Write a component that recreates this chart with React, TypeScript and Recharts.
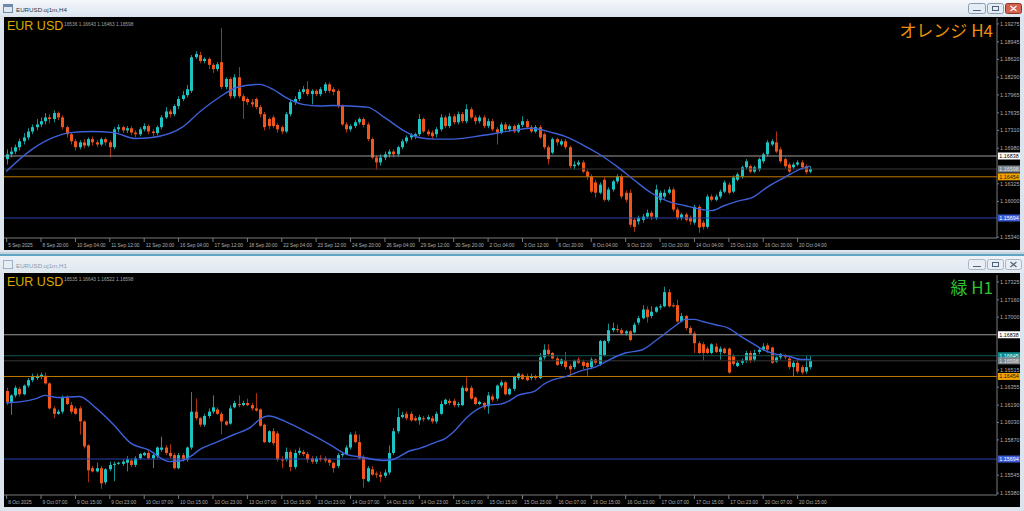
import React from "react";
import { ComposedChart, Bar, Line, XAxis, YAxis, ReferenceLine } from "recharts";

type Candle = [number, number, number, number]; // open, high, low, close

// EURUSD H4 — 5 Sep .. 20 Oct 2025
const h4Candles: Candle[] = [
  [1.1678, 1.1696, 1.1668, 1.1687], [1.1687, 1.17, 1.1681, 1.1692], [1.1692, 1.1705, 1.1687, 1.17], [1.17, 1.1716, 1.1694, 1.1711],
  [1.1711, 1.1726, 1.1705, 1.1718], [1.1718, 1.1735, 1.1713, 1.1729], [1.1729, 1.1742, 1.1724, 1.1737], [1.1737, 1.1752, 1.1731, 1.1742],
  [1.1742, 1.1755, 1.1737, 1.1748], [1.1748, 1.1763, 1.1742, 1.1755], [1.1755, 1.1761, 1.1744, 1.1752], [1.1752, 1.1768, 1.1746, 1.1763],
  [1.1763, 1.1766, 1.175, 1.1755], [1.1755, 1.1759, 1.1733, 1.1737], [1.1737, 1.174, 1.1718, 1.1724], [1.1724, 1.1728, 1.1705, 1.1711],
  [1.1711, 1.1715, 1.1694, 1.17], [1.17, 1.1713, 1.1696, 1.1709], [1.1709, 1.1715, 1.1698, 1.1703], [1.1703, 1.1718, 1.17, 1.1715],
  [1.1715, 1.172, 1.1703, 1.1709], [1.1709, 1.1713, 1.17, 1.1705], [1.1705, 1.1718, 1.1702, 1.1715], [1.1715, 1.1718, 1.1703, 1.1709],
  [1.1709, 1.1713, 1.1681, 1.17], [1.17, 1.1737, 1.1696, 1.1733], [1.1733, 1.1742, 1.1727, 1.1737], [1.1737, 1.174, 1.1726, 1.1731],
  [1.1731, 1.1739, 1.1726, 1.1735], [1.1735, 1.1739, 1.1722, 1.1727], [1.1727, 1.1731, 1.1718, 1.1724], [1.1724, 1.1737, 1.172, 1.1733],
  [1.1733, 1.1744, 1.1729, 1.1739], [1.1739, 1.1742, 1.1724, 1.1729], [1.1729, 1.1733, 1.1718, 1.1726], [1.1726, 1.174, 1.1722, 1.1737],
  [1.1737, 1.1759, 1.1733, 1.1755], [1.1755, 1.1774, 1.1752, 1.1766], [1.1766, 1.177, 1.1755, 1.1761], [1.1761, 1.1779, 1.1757, 1.1776],
  [1.1776, 1.1794, 1.177, 1.1789], [1.1789, 1.1804, 1.1785, 1.1796], [1.1796, 1.1815, 1.1792, 1.1807], [1.1804, 1.187, 1.18, 1.1866],
  [1.1866, 1.1877, 1.1863, 1.1872], [1.187, 1.1876, 1.1855, 1.1859], [1.1859, 1.1866, 1.1855, 1.1863], [1.1863, 1.1866, 1.1844, 1.1852],
  [1.1852, 1.1855, 1.1837, 1.1844], [1.1844, 1.1857, 1.184, 1.1853], [1.1857, 1.192, 1.1807, 1.1811], [1.1811, 1.1829, 1.1807, 1.1826],
  [1.1826, 1.1829, 1.1789, 1.1794], [1.1794, 1.1835, 1.179, 1.1829], [1.1829, 1.1848, 1.179, 1.1794], [1.1794, 1.1798, 1.1752, 1.1785],
  [1.1789, 1.1792, 1.1778, 1.1783], [1.1783, 1.1789, 1.1774, 1.1779], [1.1789, 1.1792, 1.177, 1.1774], [1.1774, 1.1778, 1.1755, 1.1761],
  [1.1761, 1.1765, 1.1731, 1.1737], [1.1752, 1.1755, 1.1733, 1.1739], [1.1755, 1.1759, 1.1735, 1.1739], [1.1741, 1.1744, 1.1727, 1.1733],
  [1.1737, 1.174, 1.1724, 1.1729], [1.1729, 1.1765, 1.1726, 1.1761], [1.1761, 1.1789, 1.1757, 1.1783], [1.1783, 1.1794, 1.1778, 1.1789],
  [1.1789, 1.1807, 1.1785, 1.1802], [1.1802, 1.1813, 1.1798, 1.1807], [1.1807, 1.1822, 1.1794, 1.1798], [1.1798, 1.1807, 1.1779, 1.1804],
  [1.1804, 1.1807, 1.1794, 1.1798], [1.1798, 1.1811, 1.1794, 1.1807], [1.1804, 1.182, 1.18, 1.1816], [1.1816, 1.182, 1.18, 1.1804],
  [1.1807, 1.1811, 1.1796, 1.1802], [1.1804, 1.1807, 1.1772, 1.1776], [1.1776, 1.1779, 1.1739, 1.1742], [1.1742, 1.1746, 1.1727, 1.1733],
  [1.1733, 1.1742, 1.1729, 1.1739], [1.1739, 1.175, 1.1735, 1.1746], [1.1746, 1.1755, 1.1742, 1.1752], [1.1752, 1.1755, 1.1737, 1.1741],
  [1.1742, 1.1746, 1.1711, 1.1715], [1.1715, 1.1718, 1.1678, 1.1681], [1.1681, 1.1685, 1.1659, 1.1672], [1.1672, 1.1687, 1.1666, 1.1681],
  [1.1681, 1.1692, 1.1676, 1.1687], [1.1687, 1.1696, 1.1681, 1.1692], [1.1692, 1.1696, 1.1681, 1.1687], [1.1687, 1.1703, 1.1683, 1.17],
  [1.17, 1.1715, 1.1696, 1.1711], [1.1711, 1.1722, 1.1707, 1.1718], [1.1718, 1.1726, 1.1713, 1.1722], [1.172, 1.1727, 1.1715, 1.1724],
  [1.1724, 1.1761, 1.172, 1.1752], [1.1752, 1.1755, 1.1726, 1.1729], [1.1729, 1.1733, 1.172, 1.1724], [1.1727, 1.1731, 1.1715, 1.172],
  [1.1724, 1.1737, 1.1718, 1.1733], [1.1733, 1.1761, 1.1729, 1.1755], [1.1755, 1.1759, 1.1735, 1.1739], [1.1739, 1.1763, 1.1735, 1.1757],
  [1.1757, 1.1761, 1.1742, 1.1746], [1.1746, 1.1766, 1.1742, 1.1761], [1.1761, 1.1765, 1.1744, 1.1748], [1.1748, 1.1779, 1.1744, 1.177],
  [1.177, 1.1774, 1.1752, 1.1755], [1.1755, 1.1759, 1.1742, 1.1748], [1.1748, 1.1759, 1.1744, 1.1755], [1.1755, 1.1759, 1.1735, 1.1739],
  [1.1739, 1.1753, 1.1735, 1.1748], [1.1748, 1.1752, 1.1729, 1.1733], [1.1733, 1.1737, 1.1705, 1.1727], [1.1727, 1.1746, 1.1724, 1.1742],
  [1.1742, 1.1746, 1.1729, 1.1733], [1.1733, 1.1742, 1.1729, 1.1739], [1.1739, 1.1742, 1.1726, 1.1729], [1.1729, 1.1744, 1.1726, 1.1741],
  [1.1741, 1.1757, 1.1737, 1.1748], [1.1748, 1.1752, 1.1733, 1.1737], [1.1737, 1.1741, 1.1726, 1.1729], [1.1729, 1.1741, 1.1726, 1.1737],
  [1.1737, 1.1741, 1.1715, 1.1718], [1.1724, 1.1727, 1.1696, 1.17], [1.17, 1.1703, 1.1668, 1.1678], [1.169, 1.1718, 1.1687, 1.1715],
  [1.1715, 1.1718, 1.1703, 1.1709], [1.1705, 1.1715, 1.1702, 1.1711], [1.1711, 1.1715, 1.1696, 1.17], [1.17, 1.1703, 1.1661, 1.1665],
  [1.1665, 1.1674, 1.1659, 1.1668], [1.1668, 1.1676, 1.1665, 1.1672], [1.1672, 1.1676, 1.1652, 1.1655], [1.1655, 1.1659, 1.164, 1.1646],
  [1.1646, 1.165, 1.1615, 1.1618], [1.1635, 1.164, 1.1607, 1.1616], [1.1616, 1.1635, 1.1613, 1.1631], [1.164, 1.1644, 1.16, 1.1603],
  [1.1603, 1.1626, 1.16, 1.1622], [1.1622, 1.164, 1.1618, 1.1637], [1.1637, 1.165, 1.1633, 1.1646], [1.1646, 1.165, 1.1605, 1.1609],
  [1.1616, 1.162, 1.1598, 1.1603], [1.1616, 1.1622, 1.1552, 1.1557], [1.1566, 1.157, 1.1544, 1.1553], [1.1563, 1.1574, 1.1557, 1.157],
  [1.1566, 1.1577, 1.1561, 1.1572], [1.1572, 1.1585, 1.1568, 1.1579], [1.1579, 1.1583, 1.1566, 1.1572], [1.157, 1.1631, 1.1566, 1.1622],
  [1.1603, 1.162, 1.1598, 1.1616], [1.1609, 1.1622, 1.1605, 1.1616], [1.1616, 1.1627, 1.1613, 1.1622], [1.1622, 1.1626, 1.1581, 1.1585],
  [1.1585, 1.1589, 1.1566, 1.157], [1.157, 1.1579, 1.1565, 1.1576], [1.1576, 1.1579, 1.1563, 1.1566], [1.157, 1.1574, 1.1557, 1.1563],
  [1.1561, 1.1594, 1.1557, 1.159], [1.159, 1.1594, 1.1542, 1.1552], [1.1561, 1.1565, 1.1548, 1.1553], [1.1553, 1.1613, 1.155, 1.1609],
  [1.1609, 1.1613, 1.16, 1.1603], [1.1603, 1.1613, 1.16, 1.1609], [1.1609, 1.1622, 1.1605, 1.1618], [1.1618, 1.1639, 1.1615, 1.1635],
  [1.1631, 1.1635, 1.1613, 1.1616], [1.1618, 1.1648, 1.1615, 1.1644], [1.164, 1.1653, 1.1637, 1.165], [1.1646, 1.1666, 1.1642, 1.1663],
  [1.1663, 1.1678, 1.1659, 1.1674], [1.1665, 1.1668, 1.1652, 1.1655], [1.1655, 1.1666, 1.1652, 1.1663], [1.1659, 1.1681, 1.1655, 1.1678],
  [1.1674, 1.169, 1.167, 1.1687], [1.1687, 1.1713, 1.1683, 1.1709], [1.1705, 1.1715, 1.1702, 1.1711], [1.1709, 1.1729, 1.1689, 1.1692],
  [1.1696, 1.17, 1.167, 1.1674], [1.1678, 1.1681, 1.1661, 1.1665], [1.1668, 1.1672, 1.1652, 1.1655], [1.1663, 1.1672, 1.1659, 1.1668],
  [1.1668, 1.1676, 1.1665, 1.1672], [1.1672, 1.1676, 1.1659, 1.1663], [1.1665, 1.1668, 1.165, 1.1654], [1.1655, 1.1665, 1.1652, 1.166],
];

// blue moving average, read at selected candles: [candle index, value]
const h4Ma: [number, number][] = [
  [0, 1.1655], [6, 1.1696], [11, 1.1718], [15, 1.1727], [20, 1.1729], [25, 1.1727], [30, 1.1716], [34, 1.1718],
  [41, 1.1737], [45, 1.1765], [49, 1.1789], [54, 1.1811], [59, 1.1816], [62, 1.1807], [65, 1.1792], [69, 1.1779],
  [73, 1.1776], [76, 1.1777], [80, 1.1776], [84, 1.1774], [88, 1.1755], [92, 1.1733], [96, 1.1718], [100, 1.1715],
  [104, 1.1715], [111, 1.1722], [118, 1.1731], [122, 1.1735], [127, 1.1727], [130, 1.172], [134, 1.1705], [138, 1.1687],
  [142, 1.1665], [146, 1.164], [150, 1.1616], [154, 1.16], [158, 1.1592], [162, 1.1585], [164, 1.1583], [167, 1.1592],
  [170, 1.16], [174, 1.1609], [177, 1.1626], [181, 1.1644], [184, 1.1657], [187, 1.1665],
];

const h4TimeLabels = [
  "5 Sep 2025", "8 Sep 20:00", "10 Sep 04:00", "11 Sep 12:00", "12 Sep 20:00", "16 Sep 04:00", "17 Sep 12:00", "18 Sep 20:00",
  "22 Sep 04:00", "23 Sep 12:00", "24 Sep 20:00", "26 Sep 04:00", "29 Sep 12:00", "30 Sep 20:00", "2 Oct 04:00", "3 Oct 12:00",
  "6 Oct 20:00", "8 Oct 04:00", "9 Oct 12:00", "10 Oct 20:00", "14 Oct 04:00", "15 Oct 12:00", "16 Oct 20:00", "20 Oct 04:00",
];

const h4PriceTicks = [1.19275, 1.18945, 1.1862, 1.1829, 1.17965, 1.17635, 1.1731, 1.1698, 1.16325, 1.16, 1.1534];

const h4Levels = [
  { price: 1.16838, kind: "high" },
  { price: 1.16598, kind: "bid" },
  { price: 1.16454, kind: "mid" },
  { price: 1.15694, kind: "low" },
];

// EURUSD H1 — 8 Oct .. 20 Oct 2025
const h1Candles: Candle[] = [
  [1.1632, 1.1635, 1.1619, 1.1622], [1.1622, 1.1629, 1.161, 1.1628], [1.1628, 1.1637, 1.1626, 1.1635], [1.1634, 1.1636, 1.1627, 1.1629],
  [1.1629, 1.1638, 1.1628, 1.1637], [1.1637, 1.1644, 1.1635, 1.1642], [1.1642, 1.1648, 1.164, 1.1645], [1.1644, 1.1648, 1.1642, 1.1646],
  [1.1645, 1.1649, 1.1643, 1.1647], [1.1646, 1.1649, 1.1638, 1.1639], [1.1639, 1.164, 1.1615, 1.1616], [1.1616, 1.1618, 1.1607, 1.1611],
  [1.1611, 1.1615, 1.161, 1.1613], [1.1613, 1.1628, 1.1611, 1.1626], [1.1626, 1.1628, 1.1619, 1.162], [1.1619, 1.1622, 1.1611, 1.1613],
  [1.1616, 1.1618, 1.161, 1.1611], [1.1616, 1.1618, 1.1592, 1.1604], [1.1604, 1.1605, 1.1579, 1.1581], [1.1582, 1.1583, 1.1548, 1.1559],
  [1.1561, 1.1563, 1.1557, 1.1558], [1.1558, 1.1566, 1.1557, 1.1561], [1.1561, 1.1563, 1.1542, 1.1547], [1.1548, 1.1561, 1.1546, 1.156],
  [1.156, 1.1567, 1.1558, 1.1564], [1.1564, 1.1567, 1.1549, 1.1565], [1.1565, 1.1567, 1.1564, 1.1566], [1.1565, 1.1569, 1.1563, 1.1567],
  [1.1566, 1.1572, 1.1558, 1.1569], [1.1568, 1.157, 1.1562, 1.1564], [1.1564, 1.1572, 1.1562, 1.157], [1.157, 1.1575, 1.1569, 1.1574],
  [1.1573, 1.1576, 1.1572, 1.1575], [1.1575, 1.1578, 1.1569, 1.157], [1.157, 1.1576, 1.1561, 1.1573], [1.1572, 1.1581, 1.157, 1.158],
  [1.1578, 1.159, 1.1576, 1.158], [1.158, 1.1582, 1.1573, 1.1575], [1.1575, 1.1583, 1.157, 1.1572], [1.1573, 1.1575, 1.156, 1.1561],
  [1.1561, 1.1575, 1.156, 1.1573], [1.1573, 1.1575, 1.1567, 1.1569], [1.1569, 1.1581, 1.1567, 1.158], [1.158, 1.1631, 1.1578, 1.1613],
  [1.1613, 1.1625, 1.1605, 1.1607], [1.1607, 1.1608, 1.1599, 1.1601], [1.1601, 1.1611, 1.1599, 1.1609], [1.1609, 1.1616, 1.1607, 1.1613],
  [1.1613, 1.1628, 1.1611, 1.1617], [1.1615, 1.1617, 1.161, 1.1611], [1.1611, 1.1613, 1.1592, 1.1604], [1.1604, 1.1605, 1.16, 1.1601],
  [1.1602, 1.1619, 1.1601, 1.1616], [1.1617, 1.1623, 1.1616, 1.1621], [1.162, 1.1628, 1.1617, 1.1619], [1.1619, 1.1623, 1.1618, 1.1621],
  [1.1621, 1.1625, 1.1618, 1.1619], [1.1619, 1.1621, 1.1614, 1.1616], [1.1616, 1.163, 1.1613, 1.1614], [1.1615, 1.1616, 1.1599, 1.16],
  [1.1601, 1.1602, 1.1584, 1.1585], [1.1585, 1.1596, 1.1584, 1.1595], [1.1595, 1.1598, 1.1582, 1.1584], [1.1593, 1.1595, 1.1567, 1.1569],
  [1.1569, 1.1572, 1.1561, 1.1568], [1.1569, 1.158, 1.1567, 1.1576], [1.1576, 1.1578, 1.1558, 1.1562], [1.1562, 1.1578, 1.156, 1.1575],
  [1.1575, 1.158, 1.1573, 1.1577], [1.1576, 1.1578, 1.1572, 1.1574], [1.1574, 1.1576, 1.1566, 1.1569], [1.157, 1.1572, 1.1565, 1.1567],
  [1.1567, 1.1572, 1.1565, 1.157], [1.157, 1.1573, 1.1567, 1.1569], [1.157, 1.1572, 1.1566, 1.1568], [1.1569, 1.157, 1.1563, 1.1566],
  [1.1566, 1.1567, 1.1557, 1.1561], [1.1563, 1.1575, 1.1561, 1.1573], [1.1573, 1.1576, 1.1571, 1.1574], [1.1574, 1.1582, 1.1573, 1.158],
  [1.158, 1.1594, 1.1578, 1.1592], [1.1592, 1.1595, 1.1584, 1.1585], [1.1585, 1.1592, 1.1569, 1.157], [1.1571, 1.1573, 1.1543, 1.1551],
  [1.1549, 1.1563, 1.1548, 1.1561], [1.156, 1.1563, 1.1554, 1.1555], [1.1556, 1.1558, 1.1552, 1.1555], [1.1555, 1.1558, 1.1548, 1.1553],
  [1.1554, 1.156, 1.1552, 1.1557], [1.1557, 1.1582, 1.1555, 1.1575], [1.1575, 1.1598, 1.1573, 1.1595], [1.1595, 1.1616, 1.1593, 1.1608],
  [1.1608, 1.1613, 1.1607, 1.161], [1.1611, 1.1613, 1.1605, 1.1607], [1.1611, 1.1613, 1.1604, 1.1605], [1.1607, 1.1609, 1.1604, 1.1605],
  [1.1605, 1.161, 1.1601, 1.1608], [1.1607, 1.1609, 1.1604, 1.1606], [1.1606, 1.161, 1.1605, 1.1608], [1.1607, 1.1609, 1.1602, 1.1604],
  [1.1604, 1.1613, 1.1602, 1.1611], [1.1611, 1.1623, 1.161, 1.162], [1.162, 1.1625, 1.1619, 1.1624], [1.1623, 1.1625, 1.1619, 1.1621],
  [1.1623, 1.1625, 1.1617, 1.1619], [1.1619, 1.1622, 1.1617, 1.162], [1.1619, 1.1637, 1.1618, 1.1635], [1.1635, 1.1645, 1.1631, 1.1632],
  [1.1635, 1.1637, 1.1624, 1.1625], [1.1626, 1.1627, 1.1619, 1.162], [1.162, 1.1623, 1.1619, 1.1622], [1.1621, 1.1622, 1.1615, 1.1617],
  [1.1618, 1.1631, 1.1611, 1.1628], [1.1627, 1.1629, 1.1622, 1.1624], [1.1625, 1.1638, 1.1623, 1.1637], [1.1637, 1.1642, 1.1635, 1.164],
  [1.164, 1.1641, 1.1628, 1.1629], [1.1629, 1.1635, 1.1628, 1.1634], [1.1634, 1.1646, 1.1632, 1.1645], [1.1644, 1.1649, 1.1642, 1.1648],
  [1.1647, 1.1648, 1.1642, 1.1643], [1.1645, 1.1648, 1.1641, 1.1642], [1.1644, 1.1648, 1.1642, 1.1645], [1.1645, 1.1647, 1.1642, 1.1644],
  [1.1644, 1.1667, 1.1643, 1.1663], [1.1663, 1.1675, 1.1661, 1.167], [1.167, 1.1675, 1.1664, 1.1666], [1.1667, 1.1668, 1.1661, 1.1662],
  [1.1662, 1.1664, 1.1655, 1.1656], [1.1657, 1.1662, 1.1655, 1.1661], [1.166, 1.1668, 1.1652, 1.1654], [1.1655, 1.1657, 1.1645, 1.1652],
  [1.1654, 1.1661, 1.1652, 1.166], [1.1661, 1.1663, 1.1657, 1.1658], [1.1659, 1.1661, 1.1652, 1.1655], [1.1658, 1.1659, 1.1646, 1.1654],
  [1.1654, 1.1663, 1.1652, 1.1661], [1.1661, 1.1662, 1.1656, 1.1658], [1.1657, 1.1679, 1.1655, 1.1678], [1.1665, 1.1679, 1.1664, 1.1678],
  [1.1678, 1.1694, 1.1676, 1.1688], [1.1688, 1.1695, 1.1686, 1.169], [1.1689, 1.1693, 1.1686, 1.1688], [1.1688, 1.169, 1.1684, 1.1685],
  [1.1685, 1.1688, 1.1683, 1.1687], [1.1687, 1.1688, 1.1678, 1.1679], [1.1686, 1.1695, 1.1685, 1.1693], [1.1695, 1.1701, 1.1693, 1.1699],
  [1.1699, 1.1711, 1.1698, 1.1707], [1.1707, 1.171, 1.1695, 1.17], [1.1701, 1.171, 1.1699, 1.1705], [1.1705, 1.171, 1.1704, 1.1709],
  [1.1709, 1.1712, 1.1707, 1.171], [1.171, 1.1728, 1.1709, 1.1723], [1.1723, 1.1726, 1.1709, 1.171], [1.1711, 1.1713, 1.1709, 1.171],
  [1.1711, 1.1716, 1.1695, 1.1696], [1.1696, 1.1704, 1.1695, 1.1701], [1.1701, 1.1702, 1.1688, 1.169], [1.169, 1.1692, 1.1684, 1.1685],
  [1.1685, 1.1687, 1.1667, 1.1676], [1.1676, 1.1678, 1.1666, 1.1667], [1.1675, 1.1677, 1.166, 1.1667], [1.1671, 1.1673, 1.1666, 1.1667],
  [1.1667, 1.1676, 1.1666, 1.1675], [1.1673, 1.1676, 1.1667, 1.1668], [1.1668, 1.1673, 1.1661, 1.1671], [1.1671, 1.1672, 1.1666, 1.1667],
  [1.1671, 1.1672, 1.1648, 1.1649], [1.1664, 1.1666, 1.1655, 1.1657], [1.1655, 1.166, 1.1654, 1.1658], [1.1658, 1.1662, 1.1656, 1.166],
  [1.166, 1.1669, 1.1658, 1.1667], [1.1667, 1.1669, 1.1658, 1.166], [1.1661, 1.167, 1.1659, 1.1667], [1.1668, 1.1672, 1.1666, 1.167],
  [1.167, 1.1676, 1.1669, 1.1673], [1.1674, 1.1676, 1.1667, 1.167], [1.1672, 1.1673, 1.1657, 1.1658], [1.1659, 1.1664, 1.1658, 1.1663],
  [1.1663, 1.1667, 1.1661, 1.1666], [1.1664, 1.1666, 1.1661, 1.1663], [1.1662, 1.1664, 1.1652, 1.1654], [1.1654, 1.166, 1.1645, 1.1658],
  [1.1658, 1.1661, 1.1648, 1.165], [1.1654, 1.1656, 1.1647, 1.1649], [1.165, 1.1664, 1.1648, 1.1654], [1.1654, 1.1664, 1.1652, 1.166],
];

const h1Ma: [number, number][] = [
  [0, 1.1621], [3, 1.1622], [7, 1.1625], [9, 1.1628], [12, 1.1626], [17, 1.1627], [21, 1.1616], [25, 1.1601],
  [29, 1.1584], [33, 1.1578], [38, 1.1567], [41, 1.1568], [43, 1.1572], [45, 1.1578], [49, 1.1585], [53, 1.1592],
  [57, 1.1599], [59, 1.1606], [61, 1.1609], [66, 1.1602], [71, 1.1592], [76, 1.1581], [79, 1.1574], [83, 1.1571],
  [88, 1.1568], [90, 1.1569], [94, 1.1577], [96, 1.1579], [100, 1.1585], [102, 1.1588], [104, 1.1594], [107, 1.1607],
  [110, 1.1616], [112, 1.1619], [115, 1.162], [117, 1.1623], [119, 1.1628], [123, 1.1632], [125, 1.1638], [127, 1.1642],
  [130, 1.1645], [134, 1.1651], [137, 1.1654], [139, 1.1658], [142, 1.1664], [144, 1.1667], [148, 1.167], [151, 1.1678],
  [154, 1.1687], [156, 1.1693], [158, 1.1698], [160, 1.1698], [162, 1.1696], [165, 1.1693], [168, 1.169], [171, 1.1682],
  [174, 1.1675], [176, 1.167], [179, 1.1666], [182, 1.1664], [185, 1.1661], [187, 1.1661],
];

const h1TimeLabels = [
  "8 Oct 2025", "9 Oct 07:00", "9 Oct 15:00", "9 Oct 23:00", "10 Oct 07:00", "10 Oct 15:00", "10 Oct 23:00", "13 Oct 07:00",
  "13 Oct 15:00", "13 Oct 23:00", "14 Oct 07:00", "14 Oct 15:00", "14 Oct 23:00", "15 Oct 07:00", "15 Oct 15:00", "15 Oct 23:00",
  "16 Oct 07:00", "16 Oct 15:00", "16 Oct 23:00", "17 Oct 07:00", "17 Oct 15:00", "17 Oct 23:00", "20 Oct 07:00", "20 Oct 15:00",
];

const h1PriceTicks = [1.17325, 1.1716, 1.17, 1.16515, 1.16355, 1.1619, 1.1603, 1.1587, 1.15545, 1.1538];

const h1Levels = [
  { price: 1.16838, kind: "high" },
  { price: 1.16645, kind: "ask" },
  { price: 1.16598, kind: "bid" },
  { price: 1.16454, kind: "mid" },
  { price: 1.15694, kind: "low" },
];

const SLOTS = 231; // visible bar slots incl. the empty right shift
const LABEL_EVERY = 8;

const BULL = "#1cc4c4";
const BEAR = "#f0561c";
const BULL_WICK = "#158f8f";
const BEAR_WICK = "#a8320e";
const AXIS = "#7a7a7a";
const AXIS_TEXT = "#b0b0b0";
const FONT = "'Liberation Sans', Arial, sans-serif";

const LEVEL_STYLE: Record<string, { line: string; bg: string; fg: string }> = {
  high: { line: "#9c9c9c", bg: "#ffffff", fg: "#000000" },
  bid: { line: "#383838", bg: "#7d838a", fg: "#e6e6e6" },
  ask: { line: "#0d5656", bg: "#0e8a8a", fg: "#e6ffff" },
  mid: { line: "#c27a00", bg: "#f0a000", fg: "#1a1a1a" },
  low: { line: "#2944b2", bg: "#3b5bd6", fg: "#ffffff" },
};

function buildRows(candles: Candle[], ma: [number, number][], labels: string[]) {
  const maAt = new Map(ma);
  return Array.from({ length: SLOTS }, (_, i) => {
    const k = candles[i];
    return {
      i,
      label: i % LABEL_EVERY === 0 ? labels[i / LABEL_EVERY] ?? "" : "",
      range: k ? [k[2], k[1]] : null,
      open: k ? k[0] : null,
      high: k ? k[1] : null,
      low: k ? k[2] : null,
      close: k ? k[3] : null,
      ma: maAt.has(i) ? maAt.get(i) : null,
    };
  });
}

function CandleShape(props: any) {
  const { x, y, width, height, payload } = props;
  if (!payload || payload.open == null || y == null) return <g />;
  const { open, high, low, close } = payload;
  const top = Math.min(y, y + height);
  const h = Math.abs(height);
  const span = high - low || 1e-6;
  const at = (v: number) => top + ((high - v) / span) * h;
  const up = close >= open;
  const cx = Math.round(x + width / 2);
  const bTop = at(Math.max(open, close));
  const bBot = at(Math.min(open, close));
  return (
    <g>
      <line x1={cx + 0.5} x2={cx + 0.5} y1={top} y2={top + h} stroke={up ? BULL_WICK : BEAR_WICK} />
      <rect x={cx - 1} y={bTop} width={3} height={Math.max(1, bBot - bTop)} fill={up ? BULL : BEAR} />
    </g>
  );
}

function priceTag(price: number, kind: string) {
  const s = LEVEL_STYLE[kind];
  return (props: any) => {
    const vb = props.viewBox || {};
    const x = (vb.x ?? 0) + (vb.width ?? 0) + 1;
    const y = vb.y ?? 0;
    return (
      <g>
        <rect x={x} y={y - 3.5} width={22} height={7} fill={s.bg} />
        <text x={x + 1.3} y={y + 2} fontSize={5.4} fill={s.fg} fontFamily={FONT}>
          {price.toFixed(5)}
        </text>
      </g>
    );
  };
}

function CandlePanel({
  rows,
  domain,
  ticks,
  levels,
  height,
  marginTop,
}: {
  rows: ReturnType<typeof buildRows>;
  domain: [number, number];
  ticks: number[];
  levels: { price: number; kind: string }[];
  height: number;
  marginTop: number;
}) {
  const timeTick = (p: any) => {
    const row = rows[p.payload?.value];
    if (!row || !row.label) return <g />;
    return (
      <g>
        <line x1={p.x + 0.5} x2={p.x + 0.5} y1={p.y} y2={p.y + 4} stroke={AXIS} />
        <text x={p.x + 2} y={p.y + 8.5} fontSize={4.8} fill={AXIS_TEXT} fontFamily={FONT}>
          {row.label}
        </text>
      </g>
    );
  };

  return (
    <ComposedChart width={1016} height={height} data={rows} margin={{ top: marginTop, right: 0, bottom: 0, left: 0 }}>
      <XAxis xAxisId="b" dataKey="i" type="category" height={12} interval={0} tickLine={false} tickSize={0} tickMargin={0}
        axisLine={{ stroke: AXIS }} tick={timeTick} />
      <XAxis xAxisId="t" dataKey="i" type="category" orientation="top" height={0} tick={false} tickLine={false}
        axisLine={{ stroke: AXIS }} />
      <YAxis yAxisId="f" orientation="left" width={0} type="number" domain={domain} allowDataOverflow tick={false}
        tickLine={false} axisLine={{ stroke: AXIS }} />
      <YAxis yAxisId="p" orientation="right" width={23} type="number" domain={domain} allowDataOverflow ticks={ticks}
        interval={0} tickSize={2} tickMargin={1} tickLine={{ stroke: AXIS }} axisLine={{ stroke: AXIS }}
        tick={{ fill: AXIS_TEXT, fontSize: 5.4, fontFamily: FONT }} tickFormatter={(v: number) => v.toFixed(5)} />
      {levels.map((lv) => (
        <ReferenceLine key={lv.price} xAxisId="b" yAxisId="p" y={lv.price} stroke={LEVEL_STYLE[lv.kind].line}
          strokeWidth={1} label={priceTag(lv.price, lv.kind)} />
      ))}
      <Bar xAxisId="b" yAxisId="p" dataKey="range" barSize={3} shape={CandleShape} isAnimationActive={false} />
      <Line xAxisId="b" yAxisId="p" dataKey="ma" type="monotone" stroke="#3d60da" strokeWidth={1.4} dot={false}
        connectNulls isAnimationActive={false} />
    </ComposedChart>
  );
}

function WinButtons({ y, active }: { y: number; active: boolean }) {
  const face = active ? "#e4ecf5" : "#e8eef4";
  const edge = active ? "#8a9cb2" : "#a8b6c6";
  return (
    <g>
      <rect x={968.5} y={y + 0.5} width={17} height={10} rx={2} fill={face} stroke={edge} />
      <line x1={973} x2={981} y1={y + 7.5} y2={y + 7.5} stroke="#50627a" />
      <rect x={987.5} y={y + 0.5} width={16} height={10} rx={2} fill={face} stroke={edge} />
      <rect x={992.5} y={y + 3.5} width={6} height={4} fill="none" stroke="#50627a" />
      <rect x={1005.5} y={y + 0.5} width={16} height={10} rx={2} fill={active ? "#d4614e" : face} stroke={active ? "#8e3528" : edge} />
      <path d={`M1010.5 ${y + 3} L1016.5 ${y + 8} M1016.5 ${y + 3} L1010.5 ${y + 8}`} stroke={active ? "#ffffff" : "#50627a"} strokeWidth={1.2} />
    </g>
  );
}

export default function App() {
  const h4Rows = buildRows(h4Candles, h4Ma, h4TimeLabels);
  const h1Rows = buildRows(h1Candles, h1Ma, h1TimeLabels);

  return (
    <div style={{ position: "fixed", left: 0, top: 0, width: 1024, height: 511, background: "#dce5ee", overflow: "hidden", fontFamily: FONT }}>
      <div style={{ position: "absolute", left: 0, top: 0, width: 1024, height: 17, background: "linear-gradient(#f5f8fb, #dae4ee)" }} />
      <div style={{ position: "absolute", left: 0, top: 252, width: 1024, height: 2, background: "#c6d3df" }} />
      <div style={{ position: "absolute", left: 0, top: 254, width: 1024, height: 2, background: "#5fa6c4" }} />
      <div style={{ position: "absolute", left: 0, top: 256, width: 1024, height: 17, background: "linear-gradient(#edf2f7, #dfe7ef)" }} />

      <div style={{ position: "absolute", left: 4, top: 17, width: 1016, height: 233, background: "#000" }}>
        <CandlePanel rows={h4Rows} domain={[1.15325, 1.19384]} ticks={h4PriceTicks} levels={h4Levels} height={233} marginTop={1} />
      </div>
      <div style={{ position: "absolute", left: 4, top: 273, width: 1016, height: 234, background: "#000" }}>
        <CandlePanel rows={h1Rows} domain={[1.15363, 1.17388]} ticks={h1PriceTicks} levels={h1Levels} height={234} marginTop={2} />
      </div>

      <svg width={1024} height={511} style={{ position: "absolute", left: 0, top: 0, pointerEvents: "none" }}>
        <rect x={3.5} y={4.5} width={9} height={8} fill="#dfe9f4" stroke="#6f8aa8" />
        <rect x={4} y={5} width={8} height={2} fill="#6f8aa8" />
        <text x={16} y={12} fontSize={6.2} fill="#23344a" fontFamily={FONT}>EURUSD.oj1m,H4</text>
        <WinButtons y={3} active />

        <rect x={3.5} y={260.5} width={9} height={8} fill="#e6edf5" stroke="#9fb1c4" />
        <text x={16} y={268} fontSize={6.2} fill="#8a9bb0" fontFamily={FONT}>EURUSD.oj1m,H1</text>
        <WinButtons y={259} active={false} />

        <text x={64} y={25.5} fontSize={4.8} fill="#a6a6a6" fontFamily={FONT}>16536 1.16643 1.16463 1.16598</text>
        <text x={7} y={29.5} fontSize={12.5} fill="#d9ab00" fontFamily={FONT}>EUR USD</text>
        <text x={993} y={37} fontSize={17} fill="#ee8e0e" textAnchor="end" fontFamily="'Noto Sans CJK JP', sans-serif">オレンジ H4</text>

        <text x={64} y={281} fontSize={4.8} fill="#a6a6a6" fontFamily={FONT}>16535 1.16643 1.16522 1.16598</text>
        <text x={7} y={285.5} fontSize={12.5} fill="#d9ab00" fontFamily={FONT}>EUR USD</text>
        <text x={993} y={294} fontSize={17} fill="#2fc22f" textAnchor="end" fontFamily="'Noto Sans CJK JP', sans-serif">緑 H1</text>
      </svg>
    </div>
  );
}
